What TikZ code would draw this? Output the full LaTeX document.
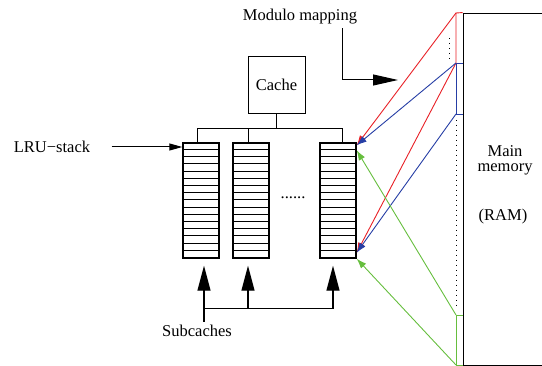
\documentclass[tikz,border=0pt]{standalone}
\usepackage{fontspec}
\setmainfont{Liberation Serif}
\usepackage{xcolor}
\usepackage{tikz}
\usetikzlibrary{arrows.meta}
\definecolor{mapred}{RGB}{232,32,38}
\definecolor{mapblue}{RGB}{38,62,165}
\definecolor{mapgreen}{RGB}{102,190,62}
\tikzstyle{plain}=[line width=.9pt]
\tikzstyle{dotline}=[line width=1pt,dash pattern=on 1pt off 4pt]
\tikzstyle{stackbox}=[draw,line width=1.4pt,minimum width=36pt,minimum height=115pt,inner sep=0pt]
\tikzstyle{subarrow}=[line width=1.2pt,>/.tip={Triangle[length=25pt,width=13pt]},->,shorten >=7pt]
\tikzstyle{modarrow}=[line width=1pt,>/.tip={Triangle[length=25pt,width=11pt]},->]
\tikzstyle{lruarrow}=[line width=1pt,>/.tip={Triangle[length=13pt,width=7pt]},->]
\tikzstyle{maparrow}=[line width=.9pt,>/.tip={Latex[length=10pt,width=7pt]},->]
\newcommand\stackrows[1]{\foreach \i in {1,...,15} \draw[plain] (#1.north west) ++(0,\i*7.19) -- ++(36,0);}

\begin{document}
\begin{tikzpicture}[x=1pt,y=-1pt,font=\fontsize{16.5}{19}\selectfont]
	\useasboundingbox (0,0) rectangle (542,366);
	\node[draw,plain,minimum size=57pt] (cache) at (276.5,84.5) {Cache};
	\node[stackbox] (s1) at (201,200.5) {};
	\node[stackbox] (s2) at (251,200.5) {};
	\node[stackbox] (s3) at (338,200.5) {};
	\stackrows{s1} \stackrows{s2} \stackrows{s3}
	\node (dots) at (293,198) {......};
	% bus from the cache
	\draw[plain] (cache.south) -- ++(0,15) coordinate (bus);
	\path ([xshift=-4pt]s1.north) coordinate (k1)
	      ([xshift=-3pt]s2.north) coordinate (k2)
	      ([xshift=4pt]s3.north)  coordinate (k3);
	\draw[plain] (k1) |- (bus) -| (k3);
	\draw[plain] (k2) -- (k2 |- bus);
	% lru
	\node (lru) at (52,147) {LRU−stack};
	\draw[lruarrow] ([xshift=18pt]lru.east) -- (lru.east -| s1.west);
	% subcaches
	\node (sub) at (197,331) {Subcaches};
	\path ([xshift=3pt]s1.south) ++(0,50) coordinate (j1)
	      ([xshift=-3pt]s2.south) ++(0,50) coordinate (j2)
	      ([xshift=-5pt]s3.south) ++(0,50) coordinate (j3);
	\draw[subarrow] (sub.north -| j1) -- (j1 |- s1.south);
	\draw[plain] (j1) -- (j3);
	\draw[subarrow] (j2) -- (j2 |- s2.south);
	\draw[subarrow] (j3) -- (j3 |- s3.south);
	% main memory
	\node[draw,plain,minimum width=100pt,minimum height=352pt,inner sep=0pt] (mem) at (513,189) {};
	\node[align=center,font=\fontsize{16.5}{15}\selectfont] (mainmem) at (505,160) {Main\\memory};
	\node (ram) at (503,217) {(RAM)};
	\coordinate (r0) at (456,13);
	\coordinate (b0) at (456,63);
	\coordinate (b1) at (456,114);
	\coordinate (g0) at (456,315);
	\coordinate (g1) at (456,365);
	\draw[plain,mapred] (mem.north west) -- (r0) -- (b0);
	\draw[plain,mapblue] ([xshift=7pt]b0) -- (b0) -- (b1) -- ++(7,0);
	\draw[plain,mapgreen] ([xshift=7pt]g0) -- (g0) -- (g1) -- ++(7,0);
	\draw[dotline] ([yshift=-6pt]b1) -- ([yshift=7pt]g0);
	\draw[dotline] ([xshift=-7pt,yshift=-25pt]r0) -- ([xshift=-7pt,yshift=-49pt]r0);
	% modulo mapping
	\node (mm) at (300,17) {Modulo mapping};
	\coordinate (mmend) at (398,80);
	\draw[modarrow] ([xshift=42pt]mm.south) |- (mmend);
	\draw[maparrow,mapred]   (r0) -- ([yshift=-3pt]s3.north east);
	\draw[maparrow,mapred]   (b0) -- ([yshift=6pt]s3.south east);
	\draw[maparrow,mapblue]  (b0) -- ([yshift=-3pt]s3.north east);
	\draw[maparrow,mapblue]  (b1) -- ([yshift=6pt]s3.south east);
	\draw[maparrow,mapgreen] (g0) -- ([yshift=-8pt]s3.north east);
	\draw[maparrow,mapgreen] (g1) -- (s3.south east);
\end{tikzpicture}
\end{document}
